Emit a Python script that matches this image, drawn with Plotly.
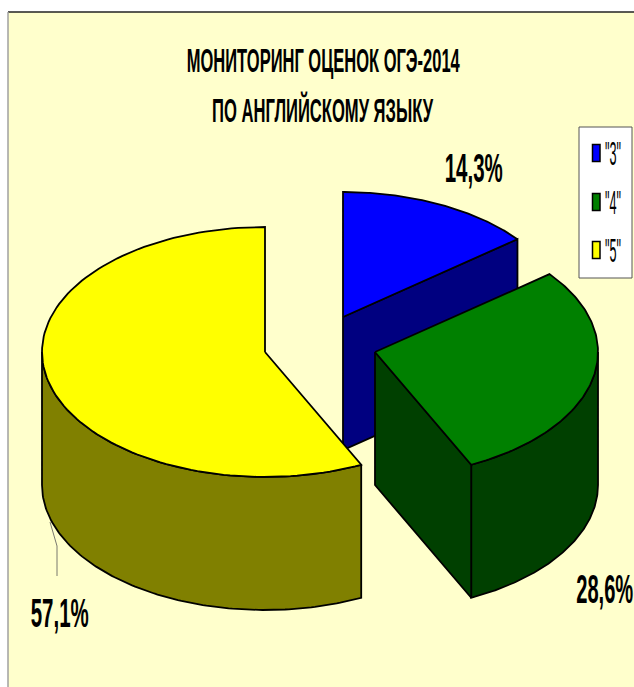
import numpy as np
import plotly.graph_objects as go

categories = ['"3"', '"4"', '"5"']
values = [14.3, 28.6, 57.1]
top_colors = ["#0000FF", "#008000", "#FFFF00"]
side_colors = ["#000080", "#004000", "#808000"]
title_lines = ["МОНИТОРИНГ ОЦЕНОК ОГЭ-2014", "ПО АНГЛИЙСКОМУ ЯЗЫКУ"]

W, H = 634, 687
RX, RY, DEPTH = 223, 125, 133
centers = [(343, 317), (375, 352), (265, 352)]
label_pos = [(473, 168), (604, 589), (59, 613)]
legend_rows = [153, 202, 250]
INK = "#000000"

fractions = np.cumsum([0] + values) / sum(values) * 2 * np.pi


def rim(c, a0, a1, dy=0):
    t = np.linspace(a0, a1, 120)
    return c[0] + RX * np.sin(t), c[1] - RY * np.cos(t) + dy


def add_face(fig, xs, ys, color):
    fig.add_trace(go.Scatter(
        x=np.append(xs, xs[0]), y=np.append(ys, ys[0]), mode="lines", fill="toself",
        fillcolor=color, line=dict(color=INK, width=1.8), hoverinfo="skip", showlegend=False))


fig = go.Figure()
for i, c in enumerate(centers):
    a0, a1 = fractions[i], fractions[i + 1]
    # wall of the slice on the front half of the ellipse
    w0, w1 = max(a0, np.pi / 2), min(a1, 3 * np.pi / 2)
    if w1 > w0:
        xt, yt = rim(c, w0, w1)
        xb, yb = rim(c, w1, w0, DEPTH)
        add_face(fig, np.r_[xt, xb], np.r_[yt, yb], side_colors[i])
    # cut face at the end angle of the first two slices
    if i < 2:
        ex, ey = rim(c, a1, a1)
        add_face(fig, np.r_[c[0], ex[0], ex[0], c[0]],
                 np.r_[c[1], ey[0], ey[0] + DEPTH, c[1] + DEPTH], side_colors[i])
    xt, yt = rim(c, a0, a1)
    add_face(fig, np.r_[c[0], xt], np.r_[c[1], yt], top_colors[i])

# leader line of the largest slice
fig.add_trace(go.Scatter(x=[50, 57, 57], y=[522, 546, 576], mode="lines",
                         line=dict(color="#555555", width=0.8), hoverinfo="skip", showlegend=False))

annotations = []
FONT = "Liberation Sans Narrow, Liberation Sans, sans-serif"
for text, y in zip(title_lines, [60, 110]):
    annotations.append(dict(x=323, y=y, text=text, showarrow=False, xref="x", yref="y",
                            font=dict(family=FONT, size=34, color=INK, weight="bold")))
for v, (x, y) in zip(values, label_pos):
    annotations.append(dict(x=x, y=y, text=f"{v:.1f}%".replace(".", ","), showarrow=False,
                            xref="x", yref="y",
                            font=dict(family=FONT, size=40, color=INK, weight="bold")))

shapes = [
    dict(type="rect", x0=8, x1=W + 5, y0=12, y1=H + 5, xref="x", yref="y", layer="below",
         fillcolor="#FFFFCC", line=dict(width=0)),
    dict(type="line", x0=8, x1=W, y0=12, y1=12, xref="x", yref="y", layer="below",
         line=dict(color="#222222", width=1.5)),
    dict(type="line", x0=8, x1=8, y0=12, y1=H, xref="x", yref="y", layer="below",
         line=dict(color="#A0A0A0", width=1.5)),
    dict(type="rect", x0=579, x1=632, y0=127, y1=278, xref="x", yref="y",
         fillcolor="#FFFFFF", line=dict(color="#555555", width=1)),
]
# legend key: swatch and label per category
for name, col, y in zip(categories, top_colors, legend_rows):
    shapes.append(dict(type="rect", x0=592.5, x1=600, y0=y - 8.5, y1=y + 8.5, xref="x", yref="y",
                       fillcolor=col, line=dict(color=INK, width=1.5)))
    annotations.append(dict(x=613, y=y, text=name, showarrow=False, xref="x", yref="y",
                            font=dict(family=FONT, size=33, color=INK)))

fig.update_layout(
    width=W, height=H, margin=dict(l=0, r=0, t=0, b=0),
    paper_bgcolor="#FFFFFF", plot_bgcolor="rgba(0,0,0,0)",
    xaxis=dict(range=[0, W], visible=False, fixedrange=True),
    yaxis=dict(range=[H, 0], visible=False, fixedrange=True),
    annotations=annotations, shapes=shapes,
    showlegend=False, hovermode=False,
)

post = """
document.documentElement.style.margin = '0';
document.documentElement.style.overflow = 'hidden';
document.body.style.margin = '0';
document.body.style.overflow = 'hidden';
var widths = {0: 273, 1: 221, 2: 58, 3: 57, 4: 58, 5: 16, 6: 16, 7: 16};
document.querySelectorAll('text.annotation-text').forEach(function (el, i) {
  if (widths[i]) { el.setAttribute('textLength', widths[i]); el.setAttribute('lengthAdjust', 'spacingAndGlyphs'); }
});
"""
fig.write_html("out.html", config={"displayModeBar": False}, post_script=post)
